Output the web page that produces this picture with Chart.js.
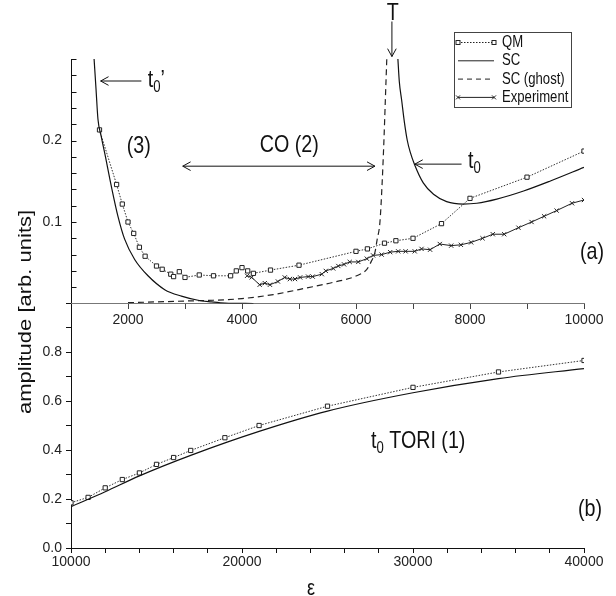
<!DOCTYPE html>
<html>
<head>
<meta charset="utf-8">
<script src="https://cdn.jsdelivr.net/npm/chart.js@4.4.1/dist/chart.umd.min.js"></script>
<style>
  html, body { margin: 0; padding: 0; background: #fff; }
  #wrap { width: 616px; height: 596px; }
</style>
</head>
<body>
<div id="wrap"><canvas id="amp" width="616" height="596"></canvas></div>
<script>
// ---- panel (a): low energy ----
var qmLowX = [1500, 1800, 1900, 2000, 2100, 2200, 2300, 2500, 2600, 2750, 2800, 2900, 3000, 3250, 3500, 3800, 3900, 4000,
              4100, 4200, 4500, 5000, 6000, 6200, 6500, 6700, 7000, 7500, 8000, 9000, 10000];
var qmLowY = [0.213, 0.146, 0.122, 0.100, 0.086, 0.069, 0.058, 0.046, 0.042, 0.036, 0.033, 0.039, 0.032, 0.035, 0.034, 0.034, 0.040, 0.044,
              0.040, 0.037, 0.041, 0.047, 0.064, 0.067, 0.074, 0.077, 0.080, 0.098, 0.129, 0.155, 0.187];

var scLeftX = [1405, 1440, 1473, 1530, 1590, 1707, 1824, 1941, 2117, 2351, 2644, 2937, 3229, 3464, 3700, 4200];
var scLeftY = [0.300, 0.262, 0.226, 0.205, 0.185, 0.144, 0.107, 0.079, 0.054, 0.034, 0.017, 0.009, 0.004, 0.002, 0.0005, 0.0];

var scRightX = [6735, 6760, 6800, 6850, 6900, 6950, 7030, 7180, 7360, 7590, 7880, 8120, 8470, 8940, 9400, 10000];
var scRightY = [0.300, 0.272, 0.250, 0.222, 0.200, 0.186, 0.170, 0.148, 0.134, 0.125, 0.122, 0.123, 0.128, 0.138, 0.150, 0.167];

var ghostX = [2000, 2500, 3000, 3500, 4000, 4550, 5130, 5600, 6010, 6190, 6270, 6330, 6370, 6420, 6460, 6490, 6515, 6540];
var ghostY = [0.001, 0.002, 0.003, 0.004, 0.006, 0.011, 0.019, 0.026, 0.034, 0.042, 0.052, 0.062, 0.078, 0.100, 0.150, 0.200, 0.250, 0.300];

var expX = [4090, 4170, 4310, 4400, 4490, 4630, 4750, 4840, 4930, 5020, 5160, 5240, 5400, 5470, 5600, 5690, 5790, 5890, 6040, 6190, 6300,
            6450, 6600, 6740, 6870, 7030, 7150, 7300, 7470, 7670, 7840, 8020, 8220, 8400, 8600, 8850, 9080, 9300, 9520, 9790, 10000];
var expY = [0.034, 0.032, 0.023, 0.025, 0.023, 0.027, 0.032, 0.030, 0.030, 0.032, 0.033, 0.033, 0.036, 0.040, 0.043, 0.046, 0.048, 0.051, 0.051, 0.055, 0.059,
            0.060, 0.063, 0.064, 0.064, 0.064, 0.067, 0.066, 0.073, 0.071, 0.072, 0.075, 0.080, 0.085, 0.085, 0.093, 0.100, 0.107, 0.114, 0.123, 0.127];

// ---- panel (b): high energy ----
var qmHighX = [10000, 11000, 12000, 13000, 14000, 15000, 16000, 17000, 19000, 21000, 25000, 30000, 35000, 40000];
var qmHighY = [0.185, 0.207, 0.246, 0.280, 0.307, 0.342, 0.370, 0.399, 0.451, 0.501, 0.580, 0.657, 0.720, 0.767];

var scHighX = [10000, 12000, 14000, 17000, 21000, 25000, 30000, 35000, 40000];
var scHighY = [0.169, 0.230, 0.295, 0.379, 0.477, 0.560, 0.635, 0.693, 0.734];

// tick labels shown
var lowTickLabels = [2000, 4000, 6000, 8000, 10000];
var highTickLabels = [10000, 20000, 30000, 40000];
var legendNames = ['QM', 'SC', 'SC (ghost)', 'Experiment'];

var FONT = "'Liberation Sans', Arial, sans-serif";
var SQUEEZE = 0.82; // the original lettering is narrow

function pts(xs, ys) {
  return xs.map(function (x, i) { return { x: x, y: ys[i] }; });
}

var qmStyle = {
  borderColor: '#333', borderWidth: 1, borderDash: [1.5, 1.5],
  pointStyle: 'rect', pointRadius: 3, pointBorderWidth: 1,
  pointBorderColor: '#222', pointBackgroundColor: '#fff'
};

function ds(label, data, xId, yId, extra) {
  var d = { label: label, data: data, xAxisID: xId, yAxisID: yId, fill: false };
  for (var k in extra) d[k] = extra[k];
  return d;
}

// narrow text: draw squeezed horizontally around the anchor
function txt(c, s, x, y, size, align) {
  c.save();
  c.font = size + 'px ' + FONT;
  c.textAlign = align || 'center'; c.textBaseline = 'middle';
  c.translate(x, y); c.scale(SQUEEZE, 1);
  c.fillText(s, 0, 0);
  var w = c.measureText(s).width * SQUEEZE;
  c.restore();
  return w;
}
function subText(c, x, y, base, sub, rest, size) {
  var w = txt(c, base, x, y, size, 'left');
  w += txt(c, sub, x + w, y + size * 0.3, Math.round(size * 0.65), 'left');
  if (rest) txt(c, rest, x + w, y, size, 'left');
}

function arrowHead(c, x1, y1, x2, y2) {
  var a = Math.atan2(y2 - y1, x2 - x1), L = 9, w = 0.5;
  c.beginPath();
  c.moveTo(x2 - L * Math.cos(a - w), y2 - L * Math.sin(a - w));
  c.lineTo(x2, y2);
  c.lineTo(x2 - L * Math.cos(a + w), y2 - L * Math.sin(a + w));
  c.stroke();
}
function arrow(c, x1, y1, x2, y2, both) {
  c.beginPath(); c.moveTo(x1, y1); c.lineTo(x2, y2); c.stroke();
  arrowHead(c, x1, y1, x2, y2);
  if (both) arrowHead(c, x2, y2, x1, y1);
}

var notes = {
  id: 'notes',
  afterDraw: function (chart) {
    var c = chart.ctx, s = chart.scales;
    var ax = function (v) { return s.xA.getPixelForValue(v); };
    var ay = function (v) { return s.yA.getPixelForValue(v); };
    var bx = function (v) { return s.xB.getPixelForValue(v); };
    var by = function (v) { return s.yB.getPixelForValue(v); };
    c.save();
    c.fillStyle = '#111'; c.strokeStyle = '#111'; c.lineWidth = 1;

    // inward tick marks on the upper panel's y axis
    var left = Math.round(s.yA.right) + 0.5;
    s.yA.ticks.forEach(function (t) {
      var py = Math.round(ay(t.value)) + 0.5;
      if (t.value <= 0) return;
      c.beginPath(); c.moveTo(left, py); c.lineTo(left + 5, py); c.stroke();
    });

    // arrows
    arrow(c, ax(2235), ay(0.273), ax(1520), ay(0.273));
    arrow(c, ax(2960), ay(0.1685), ax(6332), ay(0.1685), true);
    arrow(c, ax(6630), ay(0.346), ax(6630), ay(0.303));
    arrow(c, ax(7852), ay(0.171), ax(7032), ay(0.171));

    txt(c, '(3)', ax(2190), ay(0.193), 24);
    txt(c, 'CO (2)', ax(4830), ay(0.194), 24);
    txt(c, 'T', ax(6647), ay(0.356), 24);
    txt(c, '(a)', ax(10140), ay(0.063), 24);
    txt(c, '(b)', bx(40350), by(0.159), 24);

    subText(c, ax(2345), ay(0.274), 't', '0', '\u2019', 24);
    subText(c, ax(7966), ay(0.174), 't', '0', '', 24);
    subText(c, bx(27544), by(0.436), 't', '0', ' TORI (1)', 24);

    // axis titles
    txt(c, '\u03b5', bx(24035), by(-0.166), 22);
    c.save();
    c.font = '22px ' + FONT; c.textAlign = 'center'; c.textBaseline = 'middle';
    c.translate(26, 312); c.rotate(-Math.PI / 2); c.scale(1, SQUEEZE);
    c.fillText('amplitude [arb. units]', 0, 0);
    c.restore();

    // legend box
    var area = chart.chartArea;
    var L = area.right - 130, R = area.right - 13, T = area.top - 27, B = area.top + 48;
    c.lineWidth = 1; c.strokeStyle = '#444';
    c.strokeRect(Math.round(L) + 0.5, Math.round(T) + 0.5, R - L, B - T);
    for (var i = 0; i < legendNames.length; i++) {
      var y = T + 10.5 + i * 18.3, x1 = L + 4, x2 = L + 40;
      c.strokeStyle = '#222'; c.lineWidth = 1;
      c.setLineDash(i === 0 ? [1.5, 1.5] : (i === 2 ? [5, 4] : []));
      c.beginPath(); c.moveTo(x1, y); c.lineTo(x2, y); c.stroke();
      c.setLineDash([]);
      if (i === 0) {
        [x1, x2].forEach(function (px) {
          c.fillStyle = '#fff'; c.fillRect(px - 2, y - 2, 4, 4);
          c.strokeRect(px - 2, y - 2, 4, 4);
        });
      }
      if (i === 3) {
        [x1, x2].forEach(function (px) {
          c.beginPath(); c.moveTo(px - 2, y - 2); c.lineTo(px + 2, y + 2);
          c.moveTo(px - 2, y + 2); c.lineTo(px + 2, y - 2); c.stroke();
        });
      }
      c.fillStyle = '#111';
      txt(c, legendNames[i], L + 48, y, 16, 'left');
    }
    c.restore();
  }
};

var tickFont = { family: FONT, size: 14 };

new Chart(document.getElementById('amp'), {
  type: 'line',
  data: {
    datasets: [
      ds('SC', pts(scLeftX, scLeftY), 'xA', 'yA', { borderColor: '#111', borderWidth: 1.2, pointRadius: 0, cubicInterpolationMode: 'monotone' }),
      ds('SC', pts(scRightX, scRightY), 'xA', 'yA', { borderColor: '#111', borderWidth: 1.2, pointRadius: 0, cubicInterpolationMode: 'monotone' }),
      ds('SC (ghost)', pts(ghostX, ghostY), 'xA', 'yA', { borderColor: '#222', borderWidth: 1.2, borderDash: [6, 4], pointRadius: 0, cubicInterpolationMode: 'monotone' }),
      ds('QM', pts(qmLowX, qmLowY), 'xA', 'yA', qmStyle),
      ds('Experiment', pts(expX, expY), 'xA', 'yA', {
        borderColor: '#222', borderWidth: 1, pointStyle: 'crossRot', pointRadius: 3,
        pointBorderWidth: 1, pointBorderColor: '#222'
      }),
      ds('SC', pts(scHighX, scHighY), 'xB', 'yB', { borderColor: '#111', borderWidth: 1.2, pointRadius: 0, cubicInterpolationMode: 'monotone' }),
      ds('QM', pts(qmHighX, qmHighY), 'xB', 'yB', qmStyle)
    ]
  },
  options: {
    responsive: false,
    animation: false,
    events: [],
    layout: { padding: { top: 59, right: 32, left: 0, bottom: 0 } },
    plugins: { legend: { display: false }, tooltip: { enabled: false } },
    scales: {
      yB: {
        type: 'linear', position: 'left', stack: 'amp', stackWeight: 1,
        min: 0, max: 1.0,
        afterFit: function (sc) { sc.width = 71; },
        border: { color: '#111', width: 1 },
        grid: { drawOnChartArea: false, tickLength: 5, color: '#111' },
        ticks: {
          stepSize: 0.1, padding: 4, autoSkip: false, color: '#222', font: tickFont,
          callback: function (v) {
            var r = Math.round(v * 10);
            return (r % 2 === 0 && r < 10) ? (r / 10).toFixed(1) : '';
          }
        }
      },
      yA: {
        type: 'linear', position: 'left', stack: 'amp', stackWeight: 1,
        min: 0, max: 0.30,
        afterFit: function (sc) { sc.width = 71; },
        border: { color: '#111', width: 1 },
        grid: { drawOnChartArea: false, drawTicks: false, color: '#111' },
        ticks: {
          stepSize: 0.02, padding: 9, autoSkip: false, color: '#222', font: tickFont,
          callback: function (v) {
            var r = Math.round(v * 100);
            return (r === 10 || r === 20) ? (r / 100).toFixed(1) : '';
          }
        }
      },
      xB: {
        type: 'linear', position: 'bottom',
        min: 10000, max: 40000,
        afterFit: function (sc) { sc.height = 48; },
        border: { color: '#111', width: 1 },
        grid: { drawOnChartArea: false, tickLength: 5, color: '#111' },
        ticks: {
          stepSize: 2000, padding: 1, autoSkip: false, maxRotation: 0, color: '#222', font: tickFont,
          callback: function (v) { return highTickLabels.indexOf(v) >= 0 ? String(v) : ''; }
        }
      },
      xA: {
        type: 'linear', position: { yB: 1.0 },
        min: 1000, max: 10000,
        border: { color: '#777', width: 1 },
        grid: { drawOnChartArea: false, tickLength: 5, color: '#444' },
        ticks: {
          stepSize: 1000, padding: 3, autoSkip: false, maxRotation: 0, color: '#222', font: tickFont,
          callback: function (v) { return lowTickLabels.indexOf(v) >= 0 ? String(v) : ''; }
        }
      }
    }
  },
  plugins: [notes]
});
</script>
</body>
</html>
